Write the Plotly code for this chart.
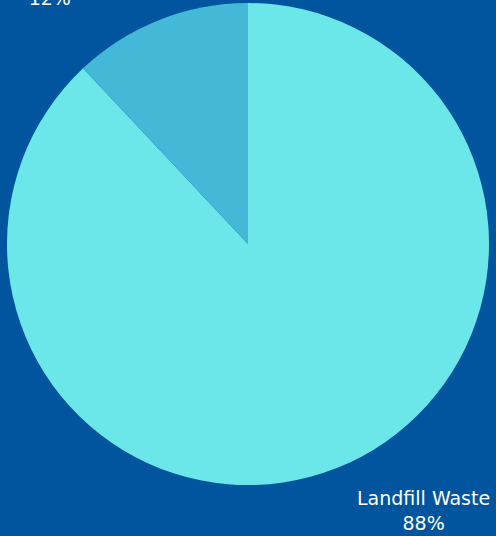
import plotly.graph_objects as go

# Waste breakdown
categories = ["Landfill Waste", "Recycled Waste"]
shares = [88, 12]
slice_colors = ["#6be6e9", "#44b8d7"]

W, H = 496, 536
BG = "#01559f"

fig = go.Figure(
    go.Pie(
        labels=categories,
        values=shares,
        sort=False,
        direction="clockwise",
        rotation=0,
        marker=dict(colors=slice_colors, line=dict(width=0)),
        textinfo="none",
        hoverinfo="label+percent",
        showlegend=False,
        domain=dict(x=[7 / W, 489 / W], y=[1 - 485 / H, 1 - 3 / H]),
    )
)

total = sum(shares)
# label anchor points (paper coords) for each slice
label_pos = [(423 / W, 1 - 510 / H), (50 / W, 1 + 14 / H)]
for name, val, (lx, ly) in zip(categories, shares, label_pos):
    fig.add_annotation(
        x=lx, y=ly, xref="paper", yref="paper",
        text=f"{name}<br>{round(100 * val / total)}%",
        showarrow=False, xanchor="center", yanchor="middle",
        align="center",
        font=dict(family="DejaVu Sans, sans-serif", size=19, color="white"),
    )

fig.update_layout(
    width=W, height=H,
    margin=dict(l=0, r=0, t=0, b=0),
    paper_bgcolor=BG, plot_bgcolor=BG,
)

fig.write_html("out.html")
